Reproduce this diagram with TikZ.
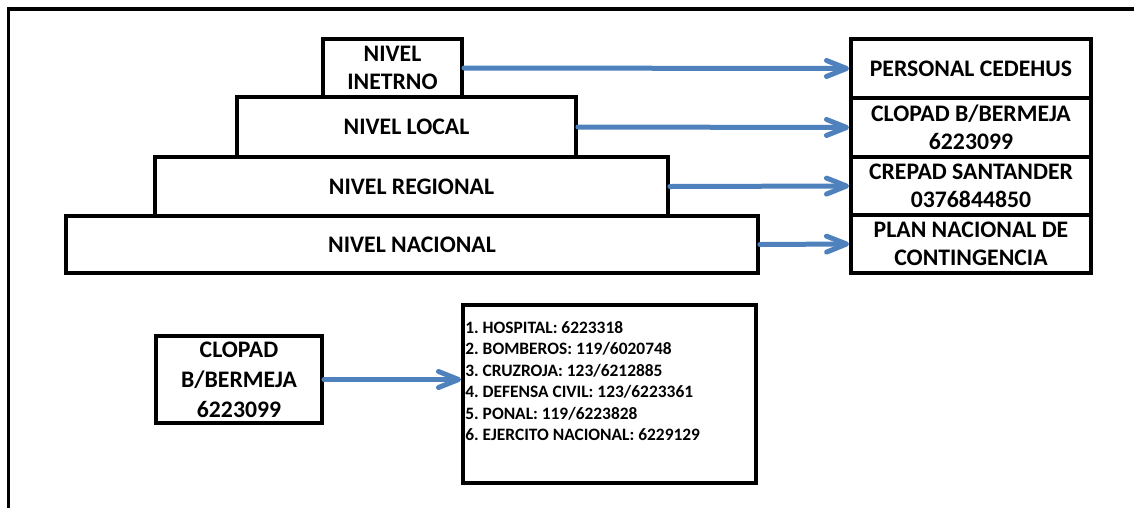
\documentclass[tikz,border=0pt]{standalone}
\usepackage{fontspec}
\setmainfont{Carlito}
\usetikzlibrary{arrows.meta}
\definecolor{azul}{HTML}{4F81BD}
\frenchspacing

\tikzset{
    caja/.style={draw, line width=0.08cm, inner sep=0pt, align=center,
        font=\bfseries\fontsize{13.5}{16}\selectfont},
    flecha/.style={azul, line width=0.1cm, line cap=round,
        -{Straight Barb[length=4mm, width=3.2mm, line cap=round, line join=round]}}
}

\begin{document}
\begin{tikzpicture}[x=0.02cm, y=-0.02cm]
    \useasboundingbox (0,0) rectangle (1134,508);
    % marco
    \draw[line width=0.08cm] (1134,9) -- (8.5,9) -- (8.5,508);
    % piramide de niveles
    \node[caja, minimum width=2.78cm, minimum height=1.16cm] (interno) at (392.5,68) {NIVEL\\INETRNO};
    \node[caja, minimum width=6.78cm, minimum height=1.2cm] (local) at (406.5,127) {NIVEL LOCAL};
    \node[caja, minimum width=10.26cm, minimum height=1.18cm] (regional) at (411.5,186.5) {NIVEL REGIONAL};
    \node[caja, minimum width=13.84cm, minimum height=1.14cm] (nacional) at (412,244.5) {NIVEL NACIONAL};
    % entidades
    \node[caja, minimum width=4.8cm, minimum height=1.18cm] (personal) at (971,68.5) {PERSONAL CEDEHUS};
    \node[caja, minimum width=4.8cm, minimum height=1.18cm] (clopad) at (971,127.5) {CLOPAD B/BERMEJA\\6223099};
    \node[caja, minimum width=4.8cm, minimum height=1.16cm] (crepad) at (971,186) {CREPAD SANTANDER\\0376844850};
    \node[caja, minimum width=4.8cm, minimum height=1.16cm] (plan) at (971,244) {PLAN NACIONAL DE\\CONTINGENCIA};
    \draw[flecha] (interno.east) -- (personal.west);
    \draw[flecha] (local.east) -- (clopad.west);
    \draw[flecha] (regional.east) -- (crepad.west);
    \draw[flecha] (nacional.east) -- (plan.west);
    % directorio
    \node[caja, minimum width=3.32cm, minimum height=1.74cm,
        font=\bfseries\fontsize{13.5}{17}\selectfont] (clopadb) at (239,379.5) {CLOPAD\\B/BERMEJA\\6223099};
    \node[caja, minimum width=5.86cm, minimum height=3.56cm] (lista) at (609.5,394) {};
    \node[inner sep=0pt, anchor=north west, align=left,
        font=\bfseries\fontsize{9.9}{12.2}\selectfont] (telefonos) at (465,321) {%
        1. HOSPITAL: 6223318\\
        2. BOMBEROS: 119/6020748\\
        3. CRUZROJA: 123/6212885\\
        4. DEFENSA CIVIL: 123/6223361\\
        5. PONAL: 119/6223828\\
        6. EJERCITO NACIONAL: 6229129};
    \draw[flecha] (clopadb.east) -- (clopadb.east -| lista.west);
\end{tikzpicture}
\end{document}
